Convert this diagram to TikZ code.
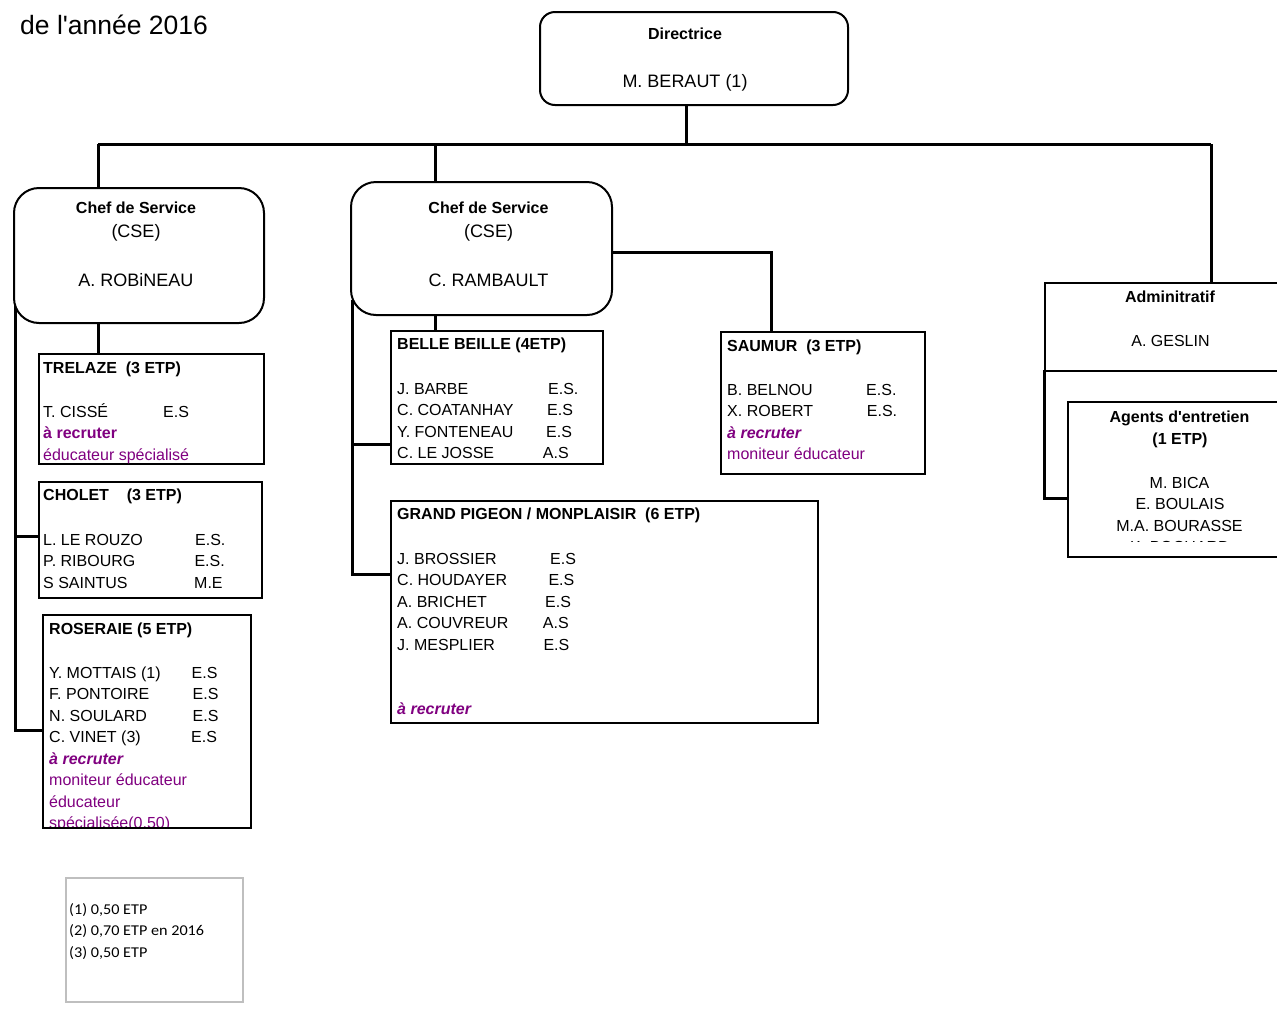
\documentclass[tikz,border=0pt]{standalone}
\usepackage{fontspec}
\setmainfont[Ligatures=TeXOff]{Liberation Sans}
\newfontfamily\calib{Carlito}
\usetikzlibrary{calc,backgrounds}
\definecolor{recru}{RGB}{128,0,128}
\definecolor{legendgray}{RGB}{191,191,191}
\tikzset{
  conn/.style={line width=3pt},
  box/.style={draw, fill=white, line width=2pt, inner sep=0pt, anchor=north west},
  rbox/.style={box, rounded corners=#1},
  txt/.style={anchor=base west, inner sep=0pt, font=\fontsize{16}{19}\selectfont},
  hdr/.style={anchor=base west, inner sep=0pt, font=\fontsize{16}{19}\selectfont\bfseries},
  ctxt/.style={anchor=base, inner sep=0pt, font=\fontsize{16}{19}\selectfont},
  chdr/.style={anchor=base, inner sep=0pt, font=\fontsize{16}{19}\selectfont\bfseries},
  big/.style={anchor=base, inner sep=0pt, font=\fontsize{18}{21}\selectfont},
  rec/.style={txt, text=recru},
  recb/.style={anchor=base west, inner sep=0pt, text=recru, font=\fontsize{16}{19}\selectfont\bfseries},
  recbi/.style={anchor=base west, inner sep=0pt, text=recru, font=\fontsize{16}{19}\selectfont\bfseries\itshape},
  legtxt/.style={anchor=base west, inner sep=0pt, font=\calib\fontsize{15}{18}\selectfont},
}
\begin{document}
\begin{tikzpicture}[x=1pt,y=-1pt]
\clip (0,0) rectangle (1277,1018);
\begin{scope}[on background layer]
\fill[white] (0,0) rectangle (1277,1018);
\end{scope}

% title (partly cut off at top in the reference)
\node[anchor=base west, inner sep=0pt, font=\fontsize{26.5}{30}\selectfont] (title) at (20,34) {de l'année 2016};

% junction coordinates
\coordinate (busD) at (686,144);
\coordinate (busL) at (98,144);
\coordinate (busM) at (435,144);
\coordinate (busR) at (1211,144);
\coordinate (l1top) at (15,300);
\coordinate (l1cho) at (15,536);
\coordinate (l1ros) at (15,730);
\coordinate (choj) at (38,536);
\coordinate (rosj) at (42,730);
\coordinate (l2top) at (352,300);
\coordinate (l2bb) at (352,444);
\coordinate (l2gp) at (352,574);
\coordinate (bbj) at (390,444);
\coordinate (gpj) at (390,574);
\coordinate (c2r) at (611,252);
\coordinate (saumtop) at (771,331);
\coordinate (adminbl) at (1044,370);
\coordinate (agj) at (1067,498);

% boxes
\node[rbox=15pt, minimum width=308pt, minimum height=93pt] (directrice) at (539,11) {};
\node[rbox=25pt, minimum width=250pt, minimum height=135pt] (cs1) at (13,187) {};
\node[rbox=25pt, minimum width=261pt, minimum height=133pt] (cs2) at (350,181) {};
\node[box, minimum width=225pt, minimum height=110pt] (trelaze) at (38,353) {};
\node[box, minimum width=223pt, minimum height=116pt] (cholet) at (38,481) {};
\node[box, minimum width=208pt, minimum height=213pt] (ros) at (42,614) {};
\node[box, minimum width=212pt, minimum height=133pt] (bb) at (390,330) {};
\node[box, minimum width=204pt, minimum height=142pt] (saumur) at (720,331) {};
\node[box, minimum width=427pt, minimum height=222pt] (gp) at (390,500) {};
\node[box, minimum width=260pt, minimum height=88pt] (admin) at (1044,282) {};
\node[box, minimum width=240pt, minimum height=155pt] (agents) at (1067,401) {};
\node[box, draw=legendgray, line width=1.5pt, minimum width=177pt, minimum height=124pt] (legend) at (65,877) {};

% connectors (behind the boxes)
\begin{scope}[on background layer]
\draw[conn] (directrice.south -| busD) -- (busD);
\draw[conn] (busL) -- (busR);
\draw[conn] (busL) -- (busL |- cs1.north);
\draw[conn] (busM) -- (busM |- cs2.north);
\draw[conn] (busR) -- (busR |- admin.north);
\draw[conn] (cs1.south -| busL) -- (busL |- trelaze.north);
\draw[conn] (l1top) -- (l1ros) -- (rosj);
\draw[conn] (l1cho) -- (choj);
\draw[conn] (cs2.south -| busM) -- (busM |- bb.north);
\draw[conn] (c2r) -| (saumtop);
\draw[conn] (l2top) -- (l2gp) -- (gpj);
\draw[conn] (l2bb) -- (bbj);
\draw[conn] (adminbl) |- (agj);
\end{scope}

% Directrice
\node[chdr] (dir1) at (685,39.5) {Directrice};
\node[big] (dir2) at (685,87.5) {M. BERAUT (1)};

% Chef de service 1
\node[chdr] (cs1a) at (136,213.5) {Chef de Service};
\node[big] (cs1b) at (136,237.5) {(CSE)};
\node[big] (cs1c) at (136,286.5) {A. ROBiNEAU};

% Chef de service 2
\node[chdr] (cs2a) at (488.5,213.5) {Chef de Service};
\node[big] (cs2b) at (488.5,237.5) {(CSE)};
\node[big] (cs2c) at (488.5,286.5) {C. RAMBAULT};

% TRELAZE
\node[hdr] (tr0) at (43,373.5) {TRELAZE~~(3 ETP)};
\node[txt] (tr1) at (43,417) {T. CISSÉ};
\node[txt] (tr1r) at (163,417) {E.S};
\node[recb] (tr2) at (43,438.5) {à recruter};
\node[rec] (tr3) at (43,460) {éducateur spécialisé};

% CHOLET
\node[hdr] (ch0) at (43,500.5) {CHOLET~~~~(3 ETP)};
\node[txt] (ch1) at (43,545) {L. LE ROUZO};
\node[txt] (ch1r) at (195,545) {E.S.};
\node[txt] (ch2) at (43,566.5) {P. RIBOURG};
\node[txt] (ch2r) at (194.3,566.5) {E.S.};
\node[txt] (ch3) at (43,588) {S SAINTUS};
\node[txt] (ch3r) at (194,588) {M.E};

% ROSERAIE
\node[hdr] (ro0) at (49,634.5) {ROSERAIE (5 ETP)};
\node[txt] (ro1) at (49,678) {Y. MOTTAIS (1)};
\node[txt] (ro1r) at (191.5,678) {E.S};
\node[txt] (ro2) at (49,699.5) {F. PONTOIRE};
\node[txt] (ro2r) at (192.5,699.5) {E.S};
\node[txt] (ro3) at (49,721) {N. SOULARD};
\node[txt] (ro3r) at (192.5,721) {E.S};
\node[txt] (ro4) at (49,742.5) {C. VINET (3)};
\node[txt] (ro4r) at (191,742.5) {E.S};
\node[recbi] (ro5) at (49,764) {à recruter};
\node[rec] (ro6) at (49,785.5) {moniteur éducateur};
\node[rec] (ro7) at (49,807) {éducateur};
\begin{scope}
\clip (43,810) rectangle (249,826);
\node[rec] (ro8) at (49,828.5) {spécialisée(0,50)};
\end{scope}

% BELLE BEILLE
\node[hdr] (bb0) at (397,349.5) {BELLE BEILLE (4ETP)};
\node[txt] (bb1) at (397,394) {J. BARBE};
\node[txt] (bb1r) at (548,394) {E.S.};
\node[txt] (bb2) at (397,415.5) {C. COATANHAY};
\node[txt] (bb2r) at (547,415.5) {E.S};
\node[txt] (bb3) at (397,437) {Y. FONTENEAU};
\node[txt] (bb3r) at (546,437) {E.S};
\node[txt] (bb4) at (397,458.5) {C. LE JOSSE};
\node[txt] (bb4r) at (542.7,458.5) {A.S};

% SAUMUR
\node[hdr] (sa0) at (727,351.5) {SAUMUR~~(3 ETP)};
\node[txt] (sa1) at (727,395) {B. BELNOU};
\node[txt] (sa1r) at (866,395) {E.S.};
\node[txt] (sa2) at (727,416.5) {X. ROBERT};
\node[txt] (sa2r) at (866.7,416.5) {E.S.};
\node[recbi] (sa3) at (727,438) {à recruter};
\node[rec] (sa4) at (727,459.5) {moniteur éducateur};

% GRAND PIGEON
\node[hdr] (gp0) at (397,519.5) {GRAND PIGEON / MONPLAISIR~~(6 ETP)};
\node[txt] (gp1) at (397,564) {J. BROSSIER};
\node[txt] (gp1r) at (550,564) {E.S};
\node[txt] (gp2) at (397,585.5) {C. HOUDAYER};
\node[txt] (gp2r) at (548.3,585.5) {E.S};
\node[txt] (gp3) at (397,607) {A. BRICHET};
\node[txt] (gp3r) at (545,607) {E.S};
\node[txt] (gp4) at (397,628.5) {A. COUVREUR};
\node[txt] (gp4r) at (542.7,628.5) {A.S};
\node[txt] (gp5) at (397,650) {J. MESPLIER};
\node[txt] (gp5r) at (543.3,650) {E.S};
\node[recbi] (gp6) at (397,714) {à recruter};

% ADMINISTRATIF
\node[chdr] (ad0) at (1170,302.5) {Adminitratif};
\node[ctxt] (ad1) at (1170.5,346) {A. GESLIN};

% AGENTS
\node[chdr] (ag0) at (1179.5,422.5) {Agents d'entretien};
\node[chdr] (ag1) at (1180,444.5) {(1 ETP)};
\node[ctxt] (ag2) at (1179.5,488) {M. BICA};
\node[ctxt] (ag3) at (1180,509.5) {E. BOULAIS};
\node[ctxt] (ag4) at (1179.5,531) {M.A. BOURASSE};
\begin{scope}
\clip (1068,536) rectangle (1277,541);
\node[ctxt] (ag5) at (1180,552.5) {K. BOCHARD};
\end{scope}

% legend
\node[legtxt] (lg1) at (69,914) {\scalebox{1.08}[1]{(1) 0,50 ETP}};
\node[legtxt] (lg2) at (69,935.5) {\scalebox{1.08}[1]{(2) 0,70 ETP en 2016}};
\node[legtxt] (lg3) at (69,957) {\scalebox{1.08}[1]{(3) 0,50 ETP}};
\end{tikzpicture}
\end{document}
